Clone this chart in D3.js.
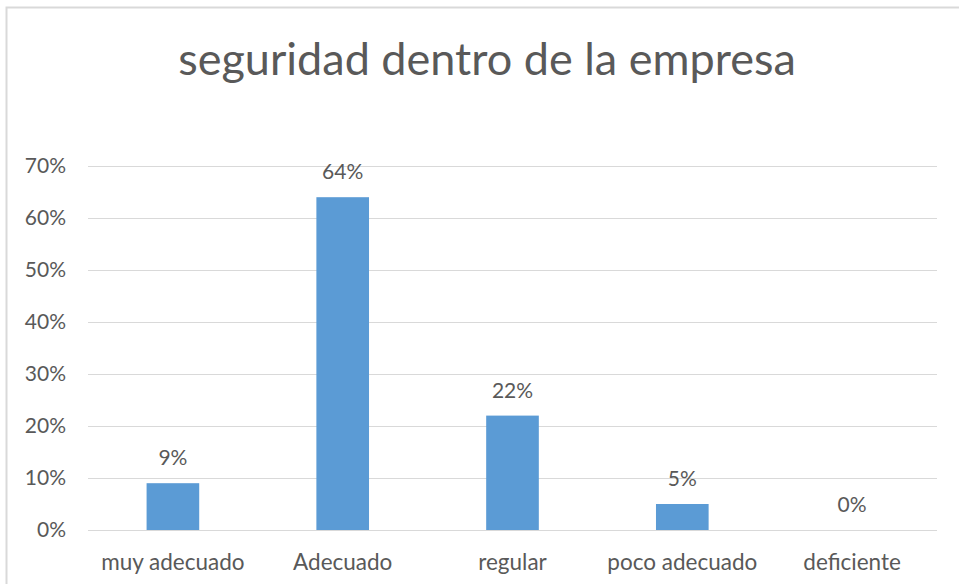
<!DOCTYPE html>
<html>
<head>
<meta charset="utf-8">
<script src="https://cdn.jsdelivr.net/npm/d3@7"></script>
<style>
  body { margin: 0; background: #fff; }
  text { font-family: Lato, "Open Sans", sans-serif; fill: #595959; }
</style>
</head>
<body>
<div id="chart"></div>
<script>
const categories = ["muy adecuado", "Adecuado", "regular", "poco adecuado", "deficiente"];
const values = [0.09, 0.64, 0.22, 0.05, 0.0];
const labels = ["9%", "64%", "22%", "5%", "0%"];
const yTicks = [0, 0.1, 0.2, 0.3, 0.4, 0.5, 0.6, 0.7];
const title = "seguridad dentro de la empresa";

const width = 959, height = 584;
const margin = {top: 166, right: 22, bottom: 54, left: 88};

const svg = d3.select("#chart").append("svg")
  .attr("width", width).attr("height", height);

// chart border
svg.append("rect")
  .attr("x", 6.5).attr("y", 7.5)
  .attr("width", 960).attr("height", 600)
  .attr("fill", "none").attr("stroke", "#d9d9d9").attr("stroke-width", 2);

svg.append("text")
  .attr("x", 487).attr("y", 75)
  .attr("text-anchor", "middle")
  .style("font-size", "45px")
  .text(title);

var x = d3.scaleBand().domain(categories)
  .range([margin.left, width - margin.right])
  .paddingInner(0.69).paddingOuter(0.345);
var y = d3.scaleLinear().domain([0, 0.7])
  .range([height - margin.bottom, margin.top]);

// gridlines
svg.append("g").selectAll("line")
  .data(yTicks).enter().append("line")
  .attr("x1", margin.left).attr("x2", width - margin.right)
  .attr("y1", d => Math.round(y(d)) + 0.5).attr("y2", d => Math.round(y(d)) + 0.5)
  .attr("stroke", "#d9d9d9").attr("stroke-width", 1);

// y axis labels
const yAxis = d3.axisLeft(y).tickValues(yTicks).tickFormat(d3.format(".0%")).tickSize(0).tickPadding(22);
svg.append("g").attr("transform", `translate(${margin.left},0)`).call(yAxis)
  .call(g => g.select(".domain").remove())
  .selectAll("text").style("font-size", "21px").attr("fill", "#595959");

// bars
svg.append("g").selectAll("rect")
  .data(values).enter().append("rect")
  .attr("x", (d, i) => x(categories[i]))
  .attr("width", x.bandwidth())
  .attr("y", d => y(d))
  .attr("height", d => y(0) - y(d))
  .attr("fill", "#5b9bd5");

// value labels
svg.append("g").selectAll("text")
  .data(values).enter().append("text")
  .attr("x", (d, i) => x(categories[i]) + x.bandwidth() / 2)
  .attr("y", d => y(d) - 18)
  .attr("text-anchor", "middle")
  .style("font-size", "21px")
  .text((d, i) => labels[i]);

// x axis labels
const xAxis = d3.axisBottom(x).tickSize(0).tickPadding(24);
svg.append("g").attr("transform", `translate(0,${height - margin.bottom})`).call(xAxis)
  .call(g => g.select(".domain").remove())
  .selectAll("text").style("font-size", "22.5px").attr("fill", "#595959");

// baseline
svg.append("line")
  .attr("x1", margin.left).attr("x2", width - margin.right)
  .attr("y1", y(0) + 0.5).attr("y2", y(0) + 0.5)
  .attr("stroke", "#d9d9d9");
</script>
</body>
</html>
